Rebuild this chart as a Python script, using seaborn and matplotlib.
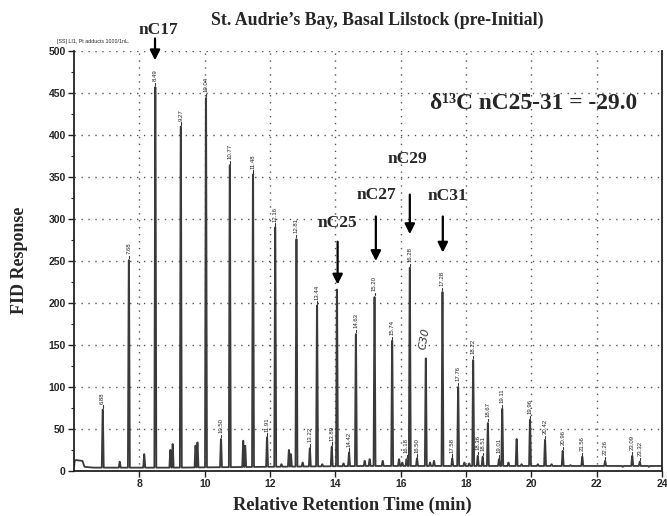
import numpy as np
import pandas as pd
import matplotlib
matplotlib.use("Agg")
import matplotlib.pyplot as plt
import seaborn as sns

# ---------------- data ----------------
# labelled peaks: retention time (min) and FID response
peak_rt = [6.88, 7.68, 8.49, 9.27, 10.04, 10.50, 10.77, 11.48, 11.91, 12.16,
           12.81, 13.22, 13.44, 13.89, 14.05, 14.42, 14.63, 15.20, 15.74, 16.18,
           16.28, 16.50, 16.77, 17.28, 17.58, 17.76, 18.22, 18.36, 18.51, 18.67,
           19.01, 19.11, 19.96, 20.42, 20.96, 21.56, 22.26, 23.09, 23.32]
peak_height = [73, 251, 457, 410, 444, 38, 364, 353, 40, 290,
               276, 27, 197, 29, 216, 22, 163, 207, 155, 14,
               242, 15, 134, 213, 15, 100, 132, 18, 17, 57,
               14, 74, 61, 37, 24, 17, 12, 18, 11]
peak_label = ["6.88", "7.68", "8.49", "9.27", "10.04", "10.50", "10.77", "11.48", "11.91", "12.16",
              "12.81", "13.22", "13.44", "13.89", "", "14.42", "14.63", "15.20", "15.74", "16.18",
              "16.28", "16.50", "C30", "17.28", "17.58", "17.76", "18.22", "18.36", "18.51", "18.67",
              "19.01", "19.11", "19.96", "20.42", "20.96", "21.56", "22.26", "23.09", "23.32"]

# unlabelled minor peaks
minor_rt = [7.40, 8.15, 8.95, 9.02, 9.72, 9.78, 11.18, 11.24, 12.58, 12.64,
            12.35, 13.00, 13.60, 14.25, 14.90, 15.05, 15.45, 15.95, 16.05, 16.90,
            17.02, 17.95, 18.10, 19.30, 19.55, 19.70, 20.20, 20.62, 21.20, 21.80,
            22.50, 22.80, 23.60]
minor_height = [11, 20, 25, 32, 30, 34, 36, 30, 25, 20,
                8, 10, 8, 9, 12, 14, 12, 14, 10, 10,
                12, 10, 9, 10, 38, 8, 8, 8, 7, 6,
                6, 5, 5]

# baseline of the trace (time, response)
base_t = [6.00, 6.02, 6.06, 6.26, 6.32, 6.60, 9.0, 12.0, 15.0, 18.0, 21.0, 24.0]
base_v = [4, 12, 13, 12, 5, 4, 4, 5, 6, 6, 6, 6]

# annotations (label, text x, text y, arrow x, arrow top, arrow tip)
arrow_names = ["nC17", "nC25", "nC27", "nC29", "nC31"]
arrow_text_x = [8.57, 14.05, 15.27, 16.22, 17.44]
arrow_text_y = [525, 295, 328, 371, 327]
arrow_x = [8.48, 14.07, 15.24, 16.28, 17.29]
arrow_y0 = [515, 273, 303, 329, 303]
arrow_y1 = [489, 222, 250, 282, 260]

title = "St. Audrie\u2019s Bay, Basal Lilstock (pre-Initial)"
header = "[SS] LI1, Pt adducts 1000/1nL."
iso_text = "\u03b4\u00b9\u00b3C nC25-31 = -29.0"
xlabel = "Relative Retention Time (min)"
ylabel = "FID Response"
x_ticks = [8, 10, 12, 14, 16, 18, 20, 22, 24]
y_ticks = list(range(0, 501, 50))

# ---------------- build trace ----------------
def base_at(t):
    return float(np.interp(t, base_t, base_v))

pts = [(t, v) for t, v in zip(base_t, base_v)]
hw = 0.03
for t, h in zip(peak_rt + minor_rt, peak_height + minor_height):
    b = base_at(t)
    pts += [(t - hw, b), (t - 0.004, h), (t + 0.004, h), (t + hw, b)]
pts.sort(key=lambda p: p[0])
trace = pd.DataFrame(pts, columns=["time", "response"])

# ---------------- plot ----------------
sns.set_style("white")
plt.rcParams["font.family"] = ["Liberation Serif", "DejaVu Serif"]

fig = plt.figure(figsize=(6.67, 5.16), dpi=100)
ax = fig.add_axes([74 / 667, 45 / 516, 588 / 667, 420 / 516])

sns.lineplot(data=trace, x="time", y="response", ax=ax, estimator=None,
             sort=False, color="#3a3a3a", linewidth=1.3)

ax.set_xlim(6, 24)
ax.set_ylim(0, 500)
ax.set_xticks(x_ticks)
ax.set_yticks(y_ticks)
ax.set_yticks(list(range(25, 500, 50)), minor=True)
ax.grid(True, which="major", linestyle=(0, (1, 4)), color="#555555", linewidth=1.0)
ax.set_axisbelow(True)
for sp in ["left", "right", "bottom"]:
    ax.spines[sp].set_visible(True)
    ax.spines[sp].set_color("#222222")
    ax.spines[sp].set_linewidth(1.3)
ax.spines["top"].set_visible(False)
ax.tick_params(axis="both", which="major", direction="out", length=4, width=1,
               labelsize=7.5, color="#222222", left=True, bottom=True, pad=2)
ax.tick_params(axis="y", which="minor", direction="out", length=2.5, width=0.8, left=True)
for lab in ax.get_xticklabels() + ax.get_yticklabels():
    lab.set_fontfamily("Liberation Sans")
    lab.set_fontweight("bold")
ax.set_xlabel("")
ax.set_ylabel("")

# peak labels
for t, h, s in zip(peak_rt, peak_height, peak_label):
    if not s:
        continue
    if s == "C30":
        ax.text(t - 0.05, h + 10, s, rotation=80, fontsize=8, ha="center", va="bottom",
                fontfamily="DejaVu Sans", fontstyle="italic", color="#333333")
        continue
    ax.plot([t, t], [h + 2, h + 5], color="#333333", lw=0.8)
    ax.text(t, h + 7, s, rotation=90, fontsize=4.3, ha="center", va="bottom",
            fontfamily="Liberation Sans", color="#222222")

# arrows and compound names
for name, tx, ty, axx, y0, y1 in zip(arrow_names, arrow_text_x, arrow_text_y,
                                     arrow_x, arrow_y0, arrow_y1):
    ax.annotate("", xy=(axx, y1), xytext=(axx, y0),
                arrowprops=dict(arrowstyle="-|>,head_length=0.6,head_width=0.3",
                                color="black", lw=1.6, shrinkA=0, shrinkB=0),
                annotation_clip=False)
    ax.text(tx, ty, name, fontsize=12.5, fontweight="bold", ha="center", va="center",
            clip_on=False)

ax.text(20.06, 438, iso_text, fontsize=16.8, fontweight="bold", ha="center", va="center")

fig.text(377 / 667, 1 - 20 / 516, title, fontsize=12.8, fontweight="bold",
         ha="center", va="center")
fig.text(57 / 667, 1 - 41 / 516, header, fontsize=3.8, ha="left", va="center",
         fontfamily="Liberation Sans")
fig.text(352 / 667, 1 - 505 / 516, xlabel, fontsize=13.2, fontweight="bold",
         ha="center", va="center")
fig.text(20 / 667, 1 - 260 / 516, ylabel, fontsize=13, fontweight="bold",
         ha="center", va="center", rotation=90)

fig.savefig("out.png", dpi=100, facecolor="white")
